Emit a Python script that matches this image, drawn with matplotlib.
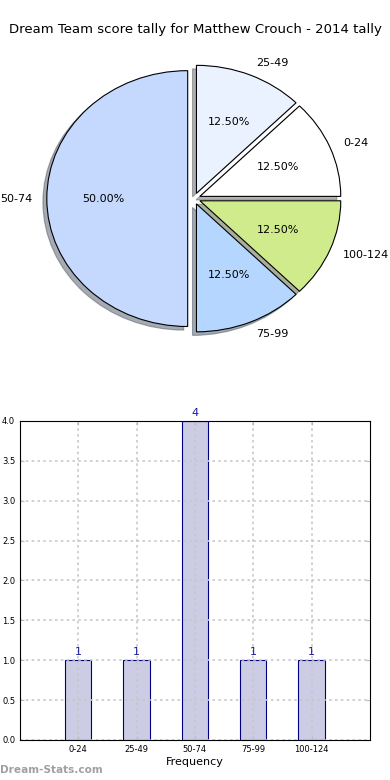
import matplotlib
matplotlib.use('Agg')
import matplotlib.pyplot as plt

# 데이터
categories = ['0-24', '25-49', '50-74', '75-99', '100-124']
counts = [1, 1, 4, 1, 1]
pie_colors = ['#ffffff', '#eaf2ff', '#c5d9fe', '#b5d6ff', '#cfeb8c']

fig = plt.figure(figsize=(3.9, 7.8), dpi=100)

# 원 그래프 (가로로 약간 넓은 타원)
ax1 = fig.add_axes([0.046, 0.5404, 0.903, 0.410])
ax1.pie(counts, labels=categories, colors=pie_colors, autopct='%.2f%%',
        explode=[0.045] * len(counts), shadow={'ox': -0.02, 'oy': -0.02, 'shade': 0.6},
        startangle=0,
        wedgeprops={'edgecolor': 'black', 'linewidth': 0.8},
        textprops={'fontsize': 8})
ax1.set_aspect('auto')
ax1.set_xlim(-1.25, 1.25)
ax1.set_ylim(-1.25, 1.25)
fig.text(0.5, 1 - 30 / 780, 'Dream Team score tally for Matthew Crouch - 2014 tally',
         ha='center', va='center', fontsize=9.5)

# 막대 그래프
ax2 = fig.add_axes([0.0513, 0.0513, 0.897, 0.409])
x = list(range(len(categories)))
ax2.bar(x, counts, width=0.45, color='#ccccE5', edgecolor='#000080', linewidth=0.8)
for xi, c in zip(x, counts):
    ax2.text(xi, c + 0.04, str(c), ha='center', va='bottom', fontsize=8, color='#1a1a99')
ax2.set_xlim(-1, 5)
ax2.set_ylim(0, 4)
ax2.set_xticks(x)
ax2.set_xticklabels(categories, fontsize=6)
ax2.set_yticks([0, 0.5, 1, 1.5, 2, 2.5, 3, 3.5, 4])
ax2.set_yticklabels(['%.1f' % v for v in ax2.get_yticks()], fontsize=6)
ax2.tick_params(direction='in', top=True, right=True, length=3, color='#bbbbbb')
ax2.grid(True, linestyle=(0, (1.5, 2)), color='#c8c8c8', linewidth=1.2)
ax2.set_axisbelow(False)
for sp in ax2.spines.values():
    sp.set_zorder(5)
ax2.set_xlabel('Frequency', fontsize=8, labelpad=2)

fig.text(0, 1 - 770 / 780, 'Dream-Stats.com', ha='left', va='center',
         fontsize=7.6, fontweight='bold', color='#a0a0a0')

plt.savefig('out.png', dpi=100)
